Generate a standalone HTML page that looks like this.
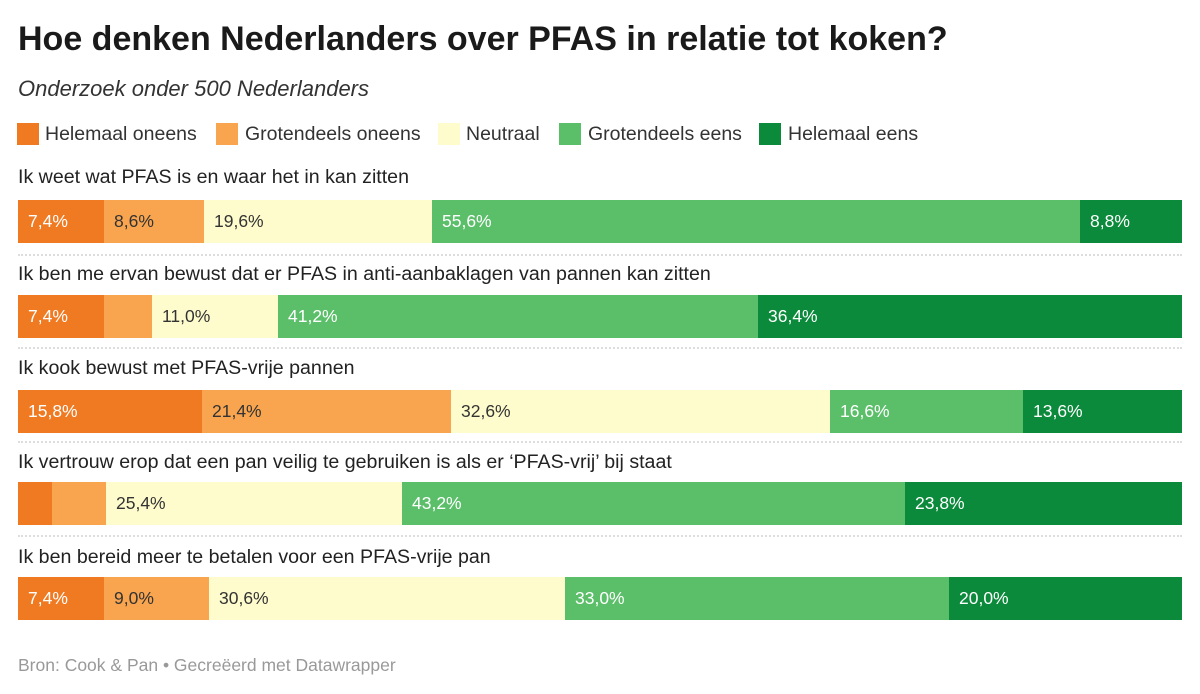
<!DOCTYPE html>
<html><head><meta charset="utf-8"><style>
body{margin:0;width:1200px;height:694px;background:#fff;font-family:"Liberation Sans",sans-serif;position:relative;overflow:hidden;color:#222}
.a{position:absolute;white-space:nowrap}
.t{left:18px;top:20px;font-size:34px;font-weight:bold;color:#1a1a1a}
.s{left:18px;top:76px;font-size:22px;font-style:italic;color:#333}
.sq{position:absolute;top:123px;width:22px;height:22px}
.lg{position:absolute;top:123px;font-size:19.5px;color:#333}
.q{position:absolute;left:18px;font-size:19.6px;color:#222}
.seg{position:absolute;height:43px;font-size:17.5px;line-height:43px;box-sizing:border-box;padding-left:10px}
.sep{position:absolute;left:18px;width:1164px;border-top:2px dotted #ddd}
.c1{background:#f07a22;color:#fff}.c2{background:#f9a54f;color:#333}.c3{background:#fefccd;color:#333}.c4{background:#5bbf6a;color:#fff}.c5{background:#0a8a3a;color:#fff}
</style></head><body>
<div class="a t">Hoe denken Nederlanders over PFAS in relatie tot koken?</div>
<div class="a s">Onderzoek onder 500 Nederlanders</div>
<div class="sq c1" style="left:17px"></div><div class="lg" style="left:45px">Helemaal oneens</div>
<div class="sq c2" style="left:216px"></div><div class="lg" style="left:245px">Grotendeels oneens</div>
<div class="sq c3" style="left:438px"></div><div class="lg" style="left:466px">Neutraal</div>
<div class="sq c4" style="left:559px"></div><div class="lg" style="left:588px">Grotendeels eens</div>
<div class="sq c5" style="left:759px"></div><div class="lg" style="left:788px">Helemaal eens</div>

<div class="q" style="top:166px">Ik weet wat PFAS is en waar het in kan zitten</div>
<div class="seg c1" style="top:200px;left:18px;width:86px">7,4%</div>
<div class="seg c2" style="top:200px;left:104px;width:100px">8,6%</div>
<div class="seg c3" style="top:200px;left:204px;width:228px">19,6%</div>
<div class="seg c4" style="top:200px;left:432px;width:648px">55,6%</div>
<div class="seg c5" style="top:200px;left:1080px;width:102px">8,8%</div>
<div class="sep" style="top:254px"></div>

<div class="q" style="top:263px">Ik ben me ervan bewust dat er PFAS in anti-aanbaklagen van pannen kan zitten</div>
<div class="seg c1" style="top:295px;left:18px;width:86px">7,4%</div>
<div class="seg c2" style="top:295px;left:104px;width:48px"></div>
<div class="seg c3" style="top:295px;left:152px;width:126px">11,0%</div>
<div class="seg c4" style="top:295px;left:278px;width:480px">41,2%</div>
<div class="seg c5" style="top:295px;left:758px;width:424px">36,4%</div>
<div class="sep" style="top:347px"></div>

<div class="q" style="top:357px">Ik kook bewust met PFAS-vrije pannen</div>
<div class="seg c1" style="top:390px;left:18px;width:184px">15,8%</div>
<div class="seg c2" style="top:390px;left:202px;width:249px">21,4%</div>
<div class="seg c3" style="top:390px;left:451px;width:379px">32,6%</div>
<div class="seg c4" style="top:390px;left:830px;width:193px">16,6%</div>
<div class="seg c5" style="top:390px;left:1023px;width:159px">13,6%</div>
<div class="sep" style="top:441px"></div>

<div class="q" style="top:451px">Ik vertrouw erop dat een pan veilig te gebruiken is als er ‘PFAS-vrij’ bij staat</div>
<div class="seg c1" style="top:482px;left:18px;width:34px"></div>
<div class="seg c2" style="top:482px;left:52px;width:54px"></div>
<div class="seg c3" style="top:482px;left:106px;width:296px">25,4%</div>
<div class="seg c4" style="top:482px;left:402px;width:503px">43,2%</div>
<div class="seg c5" style="top:482px;left:905px;width:277px">23,8%</div>
<div class="sep" style="top:535px"></div>

<div class="q" style="top:546px">Ik ben bereid meer te betalen voor een PFAS-vrije pan</div>
<div class="seg c1" style="top:577px;left:18px;width:86px">7,4%</div>
<div class="seg c2" style="top:577px;left:104px;width:105px">9,0%</div>
<div class="seg c3" style="top:577px;left:209px;width:356px">30,6%</div>
<div class="seg c4" style="top:577px;left:565px;width:384px">33,0%</div>
<div class="seg c5" style="top:577px;left:949px;width:233px">20,0%</div>

<div class="a" style="left:18px;top:655px;font-size:17.5px;color:#999">Bron: Cook &amp; Pan • Gecreëerd met Datawrapper</div>
</body></html>
